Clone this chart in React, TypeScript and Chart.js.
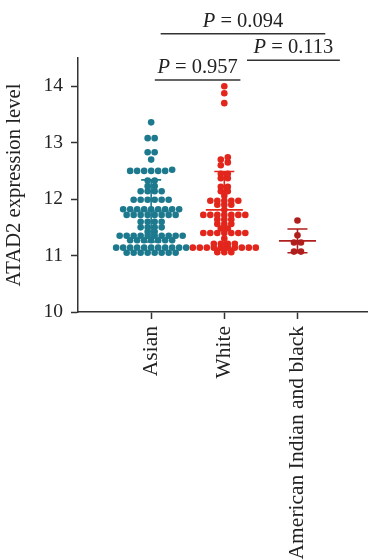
import React, { useEffect, useRef } from "react";
import { Chart, registerables } from "chart.js";

Chart.register(...registerables);

const categories = ["Asian", "White", "American Indian and black"];

const asianValues = [
  11.05, 11.05, 11.05, 11.05, 11.05, 11.05, 11.05, 11.05,
  11.14, 11.14, 11.14, 11.14, 11.14, 11.14, 11.14, 11.14, 11.14, 11.14, 11.14,
  11.27, 11.27, 11.27, 11.27, 11.27, 11.27, 11.27,
  11.35, 11.35, 11.35, 11.35, 11.35, 11.35, 11.35, 11.35, 11.35, 11.35,
  11.42, 11.42,
  11.5, 11.5, 11.5, 11.5,
  11.6, 11.6, 11.6, 11.6,
  11.72, 11.72, 11.72, 11.72, 11.72, 11.72, 11.72, 11.72,
  11.82, 11.82, 11.82, 11.82, 11.82, 11.82, 11.82, 11.82, 11.82,
  11.99, 11.99, 11.99, 11.99, 11.99, 11.99,
  12.14, 12.14, 12.14, 12.14,
  12.23, 12.23,
  12.33, 12.33,
  12.5, 12.5, 12.5, 12.5, 12.5, 12.5, 12.52,
  12.7,
  12.83, 12.83,
  13.08, 13.08,
  13.36,
];

const whiteValues = [
  11.06, 11.06, 11.06,
  11.14, 11.14, 11.14, 11.14, 11.14, 11.14, 11.14, 11.14, 11.14, 11.14,
  11.21, 11.21, 11.21, 11.21,
  11.3,
  11.4, 11.4, 11.4, 11.4, 11.4, 11.4, 11.4,
  11.48, 11.48,
  11.56, 11.56, 11.56,
  11.64, 11.64, 11.64,
  11.72, 11.72, 11.72, 11.72, 11.72, 11.72, 11.72,
  11.81,
  11.9, 11.9, 11.9,
  11.97, 11.97, 11.97, 11.97, 11.97,
  12.06,
  12.14, 12.14,
  12.22, 12.22,
  12.37, 12.37,
  12.45, 12.45,
  12.6, 12.65, 12.7, 12.74,
  13.7, 13.875, 14.0,
];

const aibValues = [11.62, 11.36, 11.23, 11.23, 11.07, 11.07];

const groupValues = [asianValues, whiteValues, aibValues];
const groupMeans = [11.79, 11.81, 11.26];
const groupSDs = [0.55, 0.68, 0.21];
const groupColors = ["#1d7a8e", "#e2261c", "#b01f1d"];

const yTicks = [10, 11, 12, 13, 14];

const sigLabels = ["0.957", "0.094", "0.113"];
const sigStart = [1.05, 1.13, 2.31];
const sigEnd = [2.22, 3.38, 3.58];
const sigLevel = [14.11, 14.93, 14.46];

const FONT = "'Liberation Serif', 'DejaVu Serif', serif";
const INK = "#222";

// Prism-style scatter: points whose values lie within rowTol px are put in one row,
// and each row is centred on the category with a fixed spacing between dots.
function rowLayout(values: number[], pxPerY: number, rowTol: number, step: number): number[] {
  const order = values.map((_, i) => i).sort((a, b) => values[a] - values[b]);
  const out = new Array(values.length).fill(0);
  const rows: number[][] = [];
  let cur: number[] = [];
  let start = -Infinity;
  for (const i of order) {
    const y = values[i] * pxPerY;
    if (cur.length && y - start > rowTol) {
      rows.push(cur);
      cur = [];
    }
    if (!cur.length) start = y;
    cur.push(i);
  }
  if (cur.length) rows.push(cur);
  for (const row of rows) {
    const n = row.length;
    row.forEach((idx, k) => {
      out[idx] = (k - (n - 1) / 2) * step;
    });
  }
  return out;
}

const errorBarPlugin = {
  id: "errorBars",
  afterDatasetsDraw(chart: any) {
    const { ctx, scales } = chart;
    const xs = scales.x;
    const ys = scales.y;
    ctx.save();
    groupMeans.forEach((m, i) => {
      const cx = xs.getPixelForValue(i + 1);
      const yM = ys.getPixelForValue(m);
      const yT = ys.getPixelForValue(m + groupSDs[i]);
      const yB = ys.getPixelForValue(m - groupSDs[i]);
      ctx.strokeStyle = groupColors[i];
      ctx.lineWidth = 1.6;
      ctx.beginPath();
      ctx.moveTo(cx, yT);
      ctx.lineTo(cx, yB);
      ctx.moveTo(cx - 18.5, yM);
      ctx.lineTo(cx + 18.5, yM);
      ctx.moveTo(cx - 10, yT);
      ctx.lineTo(cx + 10, yT);
      ctx.moveTo(cx - 10, yB);
      ctx.lineTo(cx + 10, yB);
      ctx.stroke();
    });
    ctx.restore();
  },
};

const sigPlugin = {
  id: "sigBars",
  afterDraw(chart: any) {
    const { ctx, scales } = chart;
    const xs = scales.x;
    const ys = scales.y;
    ctx.save();
    sigLabels.forEach((lab, i) => {
      const x1 = xs.getPixelForValue(sigStart[i]);
      const x2 = xs.getPixelForValue(sigEnd[i]);
      const y = ys.getPixelForValue(sigLevel[i]);
      ctx.strokeStyle = "#333";
      ctx.lineWidth = 1.5;
      ctx.beginPath();
      ctx.moveTo(x1, y);
      ctx.lineTo(x2, y);
      ctx.stroke();
      const italic = `italic 20.5px ${FONT}`;
      const regular = `20.5px ${FONT}`;
      const rest = ` = ${lab}`;
      ctx.font = italic;
      const wP = ctx.measureText("P").width;
      ctx.font = regular;
      const wR = ctx.measureText(rest).width;
      const total = wP + wR;
      const cx = (x1 + x2) / 2;
      const left = cx - total / 2;
      ctx.fillStyle = INK;
      ctx.textBaseline = "alphabetic";
      ctx.textAlign = "left";
      ctx.font = italic;
      ctx.fillText("P", left, y - 7);
      ctx.font = regular;
      ctx.fillText(rest, left + wP, y - 7);
    });
    ctx.restore();
  },
};

export default function App() {
  const canvasRef = useRef<HTMLCanvasElement | null>(null);

  useEffect(() => {
    if (!canvasRef.current) return;
    const chart = new Chart(canvasRef.current, {
      type: "scatter",
      data: {
        datasets: groupValues.map((vals, i) => ({
          label: categories[i],
          data: vals.map((v) => ({ x: i + 1, y: v })),
          backgroundColor: groupColors[i],
          borderWidth: 0,
          pointRadius: 3.3,
          pointHoverRadius: 3.3,
        })),
      },
      options: {
        animation: false,
        responsive: true,
        maintainAspectRatio: false,
        layout: { padding: { top: 58, left: 0, right: 0, bottom: 0 } },
        plugins: {
          legend: { display: false },
          tooltip: { enabled: false },
        },
        scales: {
          x: {
            type: "linear",
            min: 0,
            max: 3.96,
            afterBuildTicks: (s: any) => {
              s.ticks = categories.map((_, i) => ({ value: i + 1 }));
            },
            afterFit: (s: any) => {
              s.height = 248;
            },
            ticks: {
              autoSkip: false,
              minRotation: 90,
              maxRotation: 90,
              padding: 7,
              color: INK,
              font: { family: FONT, size: 21.5 },
              callback: (_v: any, idx: number) => categories[idx],
            },
            grid: {
              drawOnChartArea: false,
              drawTicks: true,
              tickLength: 7,
              tickWidth: 1.5,
              color: "#333",
            },
            border: { color: "#333", width: 1.5 },
          },
          y: {
            min: 10,
            max: 14.5,
            afterBuildTicks: (s: any) => {
              s.ticks = yTicks.map((v) => ({ value: v }));
            },
            afterFit: (s: any) => {
              s.width = 78;
            },
            ticks: {
              padding: 8,
              color: INK,
              font: { family: FONT, size: 19.5 },
              callback: (v: any) => String(v),
            },
            grid: {
              drawOnChartArea: false,
              drawTicks: true,
              tickLength: 7,
              tickWidth: 1.5,
              color: "#333",
            },
            border: { color: "#333", width: 1.5 },
            title: {
              display: true,
              text: "ATAD2 expression level",
              color: INK,
              font: { family: FONT, size: 20.7 },
              padding: { top: 2, bottom: 0 },
            },
          },
        },
      },
      plugins: [errorBarPlugin, sigPlugin],
    });

    const ys: any = chart.scales.y;
    const xs: any = chart.scales.x;
    const pxPerX = Math.abs(xs.getPixelForValue(2) - xs.getPixelForValue(1));
    const pxPerY = Math.abs(ys.getPixelForValue(11) - ys.getPixelForValue(12));
    groupValues.forEach((vals, i) => {
      const offs = rowLayout(vals, pxPerY, 3.5, 7);
      chart.data.datasets[i].data = vals.map((v, k) => ({
        x: i + 1 + offs[k] / pxPerX,
        y: v,
      }));
    });
    chart.update("none");

    return () => chart.destroy();
  }, []);

  return (
    <div style={{ position: "absolute", left: 0, top: 0, width: 371, height: 560, background: "#fff" }}>
      <canvas ref={canvasRef} />
    </div>
  );
}
